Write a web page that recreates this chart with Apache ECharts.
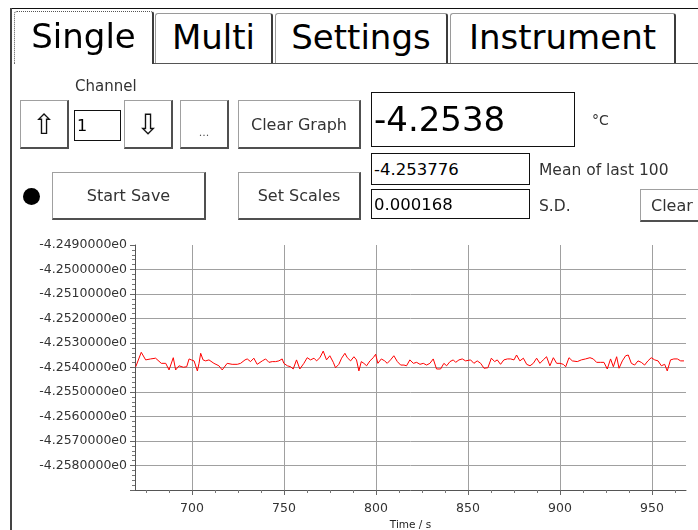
<!DOCTYPE html>
<html>
<head>
<meta charset="utf-8">
<script src="https://cdn.jsdelivr.net/npm/echarts@6/dist/echarts.min.js"></script>
<style>
  html, body { margin:0; padding:0; background:#fff; width:698px; height:530px; overflow:hidden; }
  body { position:relative; font-family:"DejaVu Sans", sans-serif; color:#222; }
  #chart { position:absolute; left:0; top:0; width:698px; height:530px; z-index:0; }
  .ui { position:absolute; z-index:1; box-sizing:border-box; }
  .tab { background:#fff; border:1px solid #9a9a9a; border-right:2px solid #3c3c3c; border-bottom:none;
         border-radius:3px 3px 0 0; font-size:34px; color:#000; display:flex; align-items:center; justify-content:center; }
  .btn { background:#fff; border:1px solid #a0a0a0; border-right:2px solid #505050; border-bottom:2px solid #505050;
         font-size:16px; color:#333; display:flex; align-items:center; justify-content:center; }
  .box { background:#fff; border:1px solid #111; display:flex; align-items:center; padding-left:2px; color:#000; }
  .lbl { font-size:15.5px; color:#333; white-space:nowrap; }
</style>
</head>
<body>
<div id="chart"></div>

<!-- window frame -->
<div class="ui" style="left:10px;top:8px;width:688px;height:1px;background:#111;"></div>
<div class="ui" style="left:10px;top:8px;width:2px;height:522px;background:#444;"></div>

<!-- tabs -->
<div class="ui" style="left:154px;top:63px;width:544px;height:1px;background:#555;"></div>
<div class="ui tab" style="left:14px;top:11px;width:140px;height:53px;border:1px dotted #555;border-right:2px solid #3c3c3c;border-bottom:none;padding-bottom:4px;">Single</div>
<div class="ui tab" style="left:155px;top:13px;width:118px;height:50px;padding-bottom:3px;">Multi</div>
<div class="ui tab" style="left:275px;top:13px;width:173px;height:50px;padding-bottom:3px;">Settings</div>
<div class="ui tab" style="left:450px;top:13px;width:226px;height:50px;padding-bottom:3px;">Instrument</div>

<!-- controls -->
<div class="ui lbl" style="left:75px;top:77px;font-size:15px;">Channel</div>
<div class="ui btn" style="left:20px;top:100px;width:49px;height:49px;font-size:28px;color:#111;">⇧</div>
<div class="ui box" style="left:74px;top:110px;width:47px;height:31px;font-size:16px;">1</div>
<div class="ui btn" style="left:124px;top:100px;width:49px;height:49px;font-size:28px;color:#111;">⇩</div>
<div class="ui btn" style="left:180px;top:100px;width:49px;height:49px;font-size:11px;color:#555;padding-top:16px;">...</div>
<div class="ui btn" style="left:238px;top:100px;width:123px;height:49px;">Clear Graph</div>

<div class="ui box" style="left:371px;top:92px;width:204px;height:55px;font-size:34px;padding-bottom:2px;">-4.2538</div>
<div class="ui lbl" style="left:592px;top:112px;font-size:14px;">°C</div>

<div class="ui box" style="left:371px;top:153px;width:159px;height:32px;font-size:16.5px;">-4.253776</div>
<div class="ui lbl" style="left:539px;top:161px;">Mean of last 100</div>

<div class="ui" style="left:23px;top:188px;width:17px;height:17px;border-radius:50%;background:#000;"></div>
<div class="ui btn" style="left:52px;top:172px;width:154px;height:48px;">Start Save</div>
<div class="ui btn" style="left:238px;top:172px;width:123px;height:48px;">Set Scales</div>

<div class="ui box" style="left:371px;top:189px;width:159px;height:30px;font-size:16.5px;">0.000168</div>
<div class="ui lbl" style="left:539px;top:197px;">S.D.</div>
<div class="ui btn" style="left:640px;top:189px;width:62px;height:33px;justify-content:flex-start;padding-left:10px;">Clear</div>

<script>
// ---------------- data ----------------
const timeSeconds = [
  669.4, 672.4, 674.8, 677.5, 680.2, 681.1, 683.3, 685.7, 687.5, 689.8,
  691.1, 692.9, 695.3, 697.1, 698.4, 699.6, 701.1, 702.9, 703.8, 704.7,
  706.0, 707.4, 709.2, 711.9, 714.6, 716.4, 719.1, 721.8, 724.6, 726.4,
  728.8, 730.0, 731.8, 733.6, 735.4, 738.2, 740.0, 741.8, 743.6, 745.4,
  747.2, 749.0, 749.9, 751.8, 753.6, 755.0, 756.8, 758.6, 760.8, 762.6,
  764.4, 766.3, 767.7, 769.5, 771.3, 773.1, 774.9, 776.8, 778.0, 779.8,
  781.3, 783.1, 784.4, 786.2, 788.0, 789.4, 790.7, 792.0, 793.4, 794.9,
  796.7, 798.5, 799.8, 801.0, 802.9, 804.7, 806.1, 807.9, 809.7, 811.6,
  813.4, 815.2, 816.6, 818.4, 820.3, 822.1, 823.9, 825.7, 827.5, 829.3,
  831.1, 832.9, 835.1, 836.9, 838.4, 840.2, 842.0, 843.3, 845.1, 846.9,
  848.7, 849.6, 851.4, 853.2, 855.0, 856.9, 858.7, 860.8, 862.7, 864.5,
  865.9, 867.7, 869.5, 871.4, 873.2, 875.0, 876.4, 878.2, 880.1, 881.9,
  883.7, 885.5, 887.3, 889.1, 890.9, 892.7, 894.5, 896.4, 898.2, 900.0,
  901.8, 903.1, 904.9, 906.7, 909.4, 911.6, 913.9, 916.3, 918.1, 919.9,
  922.1, 923.9, 925.7, 927.5, 929.0, 930.8, 932.1, 933.9, 935.7, 937.1,
  938.8, 940.6, 942.4, 944.2, 946.0, 947.8, 949.6, 951.5, 953.3, 955.1,
  956.9, 958.3, 960.1, 961.9, 963.8, 965.6, 967.4
];
const temperature = [
  -4.25397, -4.25338, -4.25369, -4.25365, -4.25362, -4.25356, -4.25383, -4.25383, -4.25410, -4.25360,
  -4.25410, -4.25393, -4.25399, -4.25397, -4.25365, -4.25369, -4.25373, -4.25414, -4.25383, -4.25342,
  -4.25369, -4.25373, -4.25369, -4.25383, -4.25393, -4.25410, -4.25383, -4.25387, -4.25387, -4.25383,
  -4.25369, -4.25365, -4.25376, -4.25362, -4.25387, -4.25373, -4.25365, -4.25379, -4.25376, -4.25376,
  -4.25373, -4.25365, -4.25383, -4.25393, -4.25397, -4.25406, -4.25369, -4.25406, -4.25383, -4.25360,
  -4.25369, -4.25362, -4.25373, -4.25360, -4.25333, -4.25369, -4.25352, -4.25379, -4.25401, -4.25387,
  -4.25362, -4.25342, -4.25360, -4.25373, -4.25356, -4.25369, -4.25414, -4.25376, -4.25383, -4.25393,
  -4.25373, -4.25360, -4.25346, -4.25383, -4.25365, -4.25373, -4.25383, -4.25369, -4.25352, -4.25376,
  -4.25390, -4.25390, -4.25393, -4.25369, -4.25383, -4.25379, -4.25387, -4.25383, -4.25390, -4.25383,
  -4.25365, -4.25406, -4.25406, -4.25383, -4.25393, -4.25376, -4.25369, -4.25379, -4.25369, -4.25365,
  -4.25373, -4.25373, -4.25369, -4.25383, -4.25373, -4.25383, -4.25403, -4.25401, -4.25362, -4.25376,
  -4.25369, -4.25387, -4.25369, -4.25365, -4.25365, -4.25369, -4.25349, -4.25373, -4.25362, -4.25387,
  -4.25393, -4.25383, -4.25362, -4.25383, -4.25369, -4.25356, -4.25393, -4.25360, -4.25383, -4.25383,
  -4.25387, -4.25397, -4.25360, -4.25373, -4.25376, -4.25369, -4.25365, -4.25360, -4.25365, -4.25379,
  -4.25379, -4.25379, -4.25406, -4.25365, -4.25397, -4.25356, -4.25403, -4.25373, -4.25352, -4.25349,
  -4.25383, -4.25390, -4.25373, -4.25379, -4.25390, -4.25373, -4.25360, -4.25369, -4.25373, -4.25393,
  -4.25387, -4.25414, -4.25369, -4.25365, -4.25365, -4.25373, -4.25373
];
const yTickValues = [-4.259, -4.258, -4.257, -4.256, -4.255, -4.254, -4.253, -4.252, -4.251, -4.250, -4.249];
const yLabelValues = [-4.258, -4.257, -4.256, -4.255, -4.254, -4.253, -4.252, -4.251, -4.250, -4.249];
const yGridValues = [-4.258, -4.257, -4.256, -4.255, -4.254, -4.253, -4.252, -4.251, -4.250];
const xTickValues = [700, 750, 800, 850, 900, 950];
const xMinorStep = 12.5;
const yMinorSteps = 5;
const xRange = [669, 968.5];
const yRange = [-4.259, -4.249];
const xAxisName = 'Time / s';

// ---------------- derived tick positions ----------------
const xMinorValues = [];
for (let v = xTickValues[0] - 2 * xMinorStep; v < xRange[1]; v += xMinorStep) {
  if (v > xRange[0] && xTickValues.indexOf(v) < 0) xMinorValues.push(v);
}
const yMinorValues = [];
for (let i = 0; i < yTickValues.length - 1; i++) {
  const a = yTickValues[i], b = yTickValues[i + 1];
  for (let k = 1; k < yMinorSteps; k++) yMinorValues.push(+(a + (b - a) * k / yMinorSteps).toFixed(6));
}
const seriesData = timeSeconds.map((t, i) => [t, temperature[i]]);

const FONT = 'DejaVu Sans';
const chart = echarts.init(document.getElementById('chart'), null, { renderer: 'canvas' });
chart.setOption({
  animation: false,
  backgroundColor: 'transparent',
  grid: { left: 135, top: 245, right: 12, bottom: 40, containLabel: false, outerBoundsMode: 'none' },
  xAxis: [
    {
      type: 'value', min: xRange[0], max: xRange[1], position: 'bottom',
      axisLine: { show: true, lineStyle: { color: '#555', width: 1 } },
      axisTick: { show: true, customValues: xTickValues, length: 5, lineStyle: { color: '#666' } },
      axisLabel: { show: true, customValues: xTickValues, color: '#333', fontSize: 12.5, fontFamily: FONT, margin: 12 },
      splitLine: { show: true, lineStyle: { color: '#a0a0a0', width: 1 } },
      name: xAxisName, nameLocation: 'middle', nameGap: 30,
      nameTextStyle: { color: '#222', fontSize: 10.5, fontFamily: FONT }
    },
    {
      type: 'value', min: xRange[0], max: xRange[1], position: 'bottom',
      axisLine: { show: false },
      axisTick: { show: true, customValues: xMinorValues, length: 3, lineStyle: { color: '#777' } },
      axisLabel: { show: false },
      splitLine: { show: false }
    }
  ],
  yAxis: [
    {
      type: 'value', min: yRange[0], max: yRange[1], position: 'left',
      axisLine: { show: true, lineStyle: { color: '#555', width: 1 } },
      axisTick: { show: true, customValues: yTickValues, length: 5, lineStyle: { color: '#666' } },
      axisLabel: { show: true, customValues: yLabelValues, color: '#333', fontSize: 12.5, fontFamily: FONT, margin: 8,
                   formatter: v => v.toFixed(7) + 'e0' },
      splitLine: { show: false }
    },
    {
      type: 'value', min: yRange[0], max: yRange[1], position: 'left',
      axisLine: { show: false },
      axisTick: { show: true, customValues: yMinorValues, length: 3, lineStyle: { color: '#777' } },
      axisLabel: { show: false },
      splitLine: { show: false }
    },
    {
      type: 'value', min: yRange[0], max: yRange[1], position: 'left',
      axisLine: { show: false },
      axisTick: { show: false, customValues: yGridValues },
      axisLabel: { show: false, customValues: yGridValues },
      splitLine: { show: true, lineStyle: { color: '#a0a0a0', width: 1 } }
    }
  ],
  series: [{
    type: 'line', xAxisIndex: 0, yAxisIndex: 0,
    data: seriesData, showSymbol: false, symbol: 'none',
    lineStyle: { color: '#ff0000', width: 1 }, itemStyle: { color: '#ff0000' },
    z: 5
  }]
});
</script>
</body>
</html>
